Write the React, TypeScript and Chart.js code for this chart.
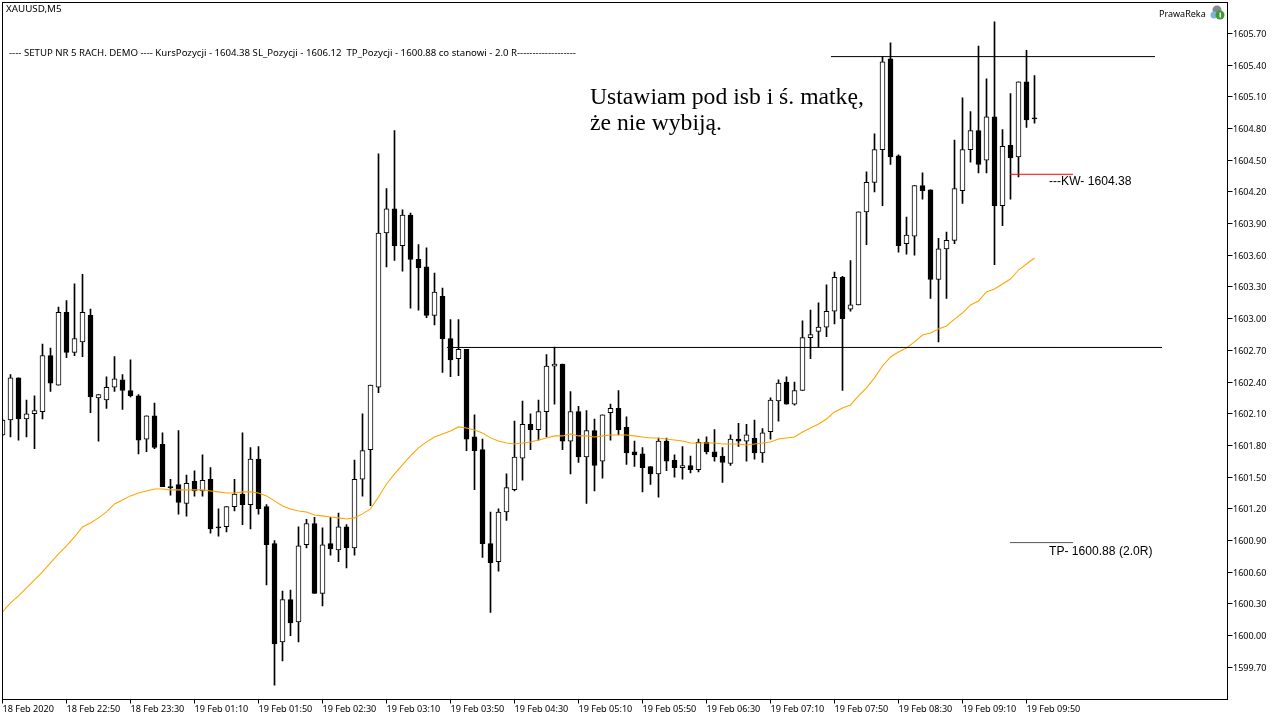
import React, { useEffect, useRef } from "react";
import { Chart, registerables } from "chart.js";

Chart.register(...registerables);

const opens = [1601.90,1602.04,1602.44,1602.05,1602.10,1602.12,1602.65,1602.37,1603.06,1602.68,1602.78,1603.03,1602.25,1602.23,1602.35,1602.42,1602.32,1602.27,1601.86,1602.08,1601.81,1601.41,1601.43,1601.25,1601.46,1601.37,1601.48,1601.03,1601.03,1601.22,1601.34,1601.24,1601.67,1601.22,1600.87,1599.94,1600.34,1600.13,1600.86,1601.06,1600.40,1600.87,1600.81,1601.03,1600.83,1601.48,1601.76,1602.35,1603.81,1604.04,1603.69,1603.98,1603.56,1603.49,1603.03,1603.21,1602.81,1602.62,1602.71,1601.88,1601.76,1600.87,1600.70,1601.17,
1601.38,1601.68,1602.00,1601.95,1602.12,1602.55,1602.57,1601.84,1602.12,1601.69,1601.94,1601.65,1602.11,1602.15,1601.97,1601.74,1601.72,1601.60,1601.53,1601.84,1601.66,1601.59,1601.61,1601.57,1601.83,1601.74,1601.70,1601.63,1601.86,1601.84,1601.87,1601.73,1601.93,1602.22,1602.40,1602.19,1602.32,1602.82,1602.88,1602.92,1603.07,1603.39,1603.09,1603.13,1604.01,1604.29,1604.60,1605.46,1604.54,1603.71,1603.78,1604.26,1604.22,1603.37,1603.66,1603.74,1604.21,1604.60,1604.78,1604.50,1604.91,1604.07,1604.64,1604.53,1605.24,1604.90];
const highs = [1602.05,1602.47,1602.44,1602.23,1602.27,1602.76,1602.72,1603.11,1603.17,1603.33,1603.42,1603.09,1602.28,1602.45,1602.64,1602.47,1602.61,1602.28,1602.08,1602.20,1601.92,1601.48,1601.94,1601.52,1601.56,1601.71,1601.59,1601.20,1601.22,1601.48,1601.92,1601.78,1601.79,1601.24,1600.90,1600.42,1600.43,1601.03,1601.10,1601.12,1601.02,1601.12,1601.16,1601.05,1601.66,1602.10,1602.37,1604.56,1604.23,1604.78,1604.03,1604.00,1603.70,1603.67,1603.43,1603.29,1602.99,1602.99,1602.71,1602.09,1601.86,1601.17,1601.20,1601.53,
1602.03,1602.22,1602.10,1602.23,1602.66,1602.73,1602.57,1602.31,1602.17,1602.13,1602.05,1602.09,1602.19,1602.32,1602.07,1601.84,1601.78,1601.60,1601.87,1601.87,1601.71,1601.79,1601.70,1601.86,1601.88,1601.95,1601.78,1601.90,1602.01,1602.00,1602.04,1601.96,1602.25,1602.42,1602.45,1602.40,1602.98,1603.08,1603.15,1603.32,1603.44,1603.40,1603.55,1604.01,1604.39,1604.75,1605.48,1605.61,1604.55,1603.96,1604.26,1604.38,1604.22,1603.76,1603.82,1604.69,1605.09,1604.96,1605.58,1605.27,1605.81,1604.79,1605.13,1605.24,1605.54,1605.30];
const lows = [1601.89,1601.88,1601.85,1601.88,1601.77,1602.05,1602.31,1602.37,1602.63,1602.65,1602.64,1602.11,1601.84,1602.15,1602.31,1602.14,1602.26,1601.72,1601.74,1601.77,1601.41,1601.33,1601.15,1601.13,1601.32,1601.32,1600.97,1600.94,1600.98,1601.18,1601.05,1601.01,1601.15,1600.48,1599.53,1599.76,1600.00,1599.94,1600.83,1600.40,1600.28,1600.76,1600.70,1600.64,1600.76,1601.32,1601.23,1602.30,1603.49,1603.55,1603.45,1603.10,1603.08,1603.01,1602.94,1602.49,1602.45,1602.46,1601.75,1601.38,1600.74,1600.22,1600.61,1601.09,
1601.37,1601.47,1601.76,1601.85,1601.88,1602.19,1601.76,1601.53,1601.64,1601.25,1601.37,1601.49,1601.85,1601.90,1601.62,1601.60,1601.36,1601.43,1601.31,1601.56,1601.50,1601.48,1601.54,1601.55,1601.72,1601.65,1601.45,1601.61,1601.79,1601.65,1601.67,1601.64,1601.86,1602.03,1602.19,1602.18,1602.32,1602.62,1602.73,1602.83,1602.95,1602.32,1603.07,1603.13,1603.70,1604.20,1604.07,1604.46,1603.63,1603.61,1603.60,1604.13,1603.19,1602.78,1603.19,1603.71,1604.09,1604.48,1604.38,1604.38,1603.51,1603.88,1604.13,1604.34,1604.81,1604.85];
const closes = [1602.04,1602.44,1602.05,1602.10,1602.13,1602.65,1602.39,1603.06,1602.68,1602.81,1603.06,1602.26,1602.28,1602.35,1602.43,1602.32,1602.27,1601.85,1602.08,1601.78,1601.41,1601.40,1601.26,1601.44,1601.37,1601.47,1601.01,1601.02,1601.22,1601.34,1601.24,1601.67,1601.20,1600.86,1599.92,1600.34,1600.12,1600.85,1601.06,1600.40,1600.86,1600.82,1601.03,1600.83,1601.48,1601.75,1602.37,1603.81,1604.04,1603.69,1603.98,1603.56,1603.48,1603.03,1603.25,1602.81,1602.61,1602.71,1601.86,1601.75,1600.87,1600.69,1601.17,1601.40,
1601.69,1602.00,1601.95,1602.12,1602.55,1602.57,1601.84,1602.12,1601.69,1601.94,1601.61,1602.09,1602.15,1601.95,1601.73,1601.71,1601.59,1601.53,1601.84,1601.65,1601.59,1601.61,1601.57,1601.83,1601.74,1601.69,1601.64,1601.86,1601.84,1601.90,1601.73,1601.92,1602.23,1602.39,1602.19,1602.32,1602.82,1602.85,1602.92,1603.07,1603.39,1603.00,1603.13,1604.01,1604.29,1604.60,1605.43,1604.53,1603.69,1603.79,1604.26,1604.21,1603.37,1603.66,1603.74,1604.23,1604.60,1604.78,1604.46,1604.91,1604.07,1604.63,1604.52,1605.24,1604.88,1604.89];
const movingAverage = [1600.224,1600.309,1600.376,1600.451,1600.527,1600.603,1600.688,1600.773,1600.849,1600.934,1601.028,1601.066,1601.114,1601.170,1601.246,1601.284,1601.322,1601.350,1601.369,1601.388,1601.388,1601.379,1601.379,1601.379,1601.379,1601.379,1601.369,1601.360,1601.350,1601.350,1601.360,1601.360,1601.350,1601.322,1601.275,1601.227,1601.199,1601.180,1601.170,1601.142,1601.133,1601.123,1601.114,1601.104,1601.114,1601.152,1601.199,1601.312,1601.435,1601.530,1601.615,1601.700,1601.776,1601.833,1601.880,1601.909,1601.937,1601.975,1601.965,1601.946,1601.918,1601.871,1601.842,1601.823,1601.814,1601.823,1601.833,1601.852,1601.871,1601.890,1601.890,1601.909,1601.890,1601.890,1601.880,1601.890,1601.899,1601.899,1601.899,1601.890,1601.880,1601.871,1601.871,1601.861,1601.852,1601.842,1601.823,1601.823,1601.823,1601.823,1601.814,1601.814,1601.814,1601.804,1601.814,1601.823,1601.833,1601.861,1601.871,1601.880,1601.927,1601.965,1602.003,1602.050,1602.117,1602.154,1602.183,1602.268,1602.344,1602.439,1602.552,1602.637,1602.684,1602.722,1602.779,1602.845,1602.864,1602.902,1602.930,1602.996,1603.053,1603.129,1603.167,1603.252,1603.280,1603.328,1603.375,1603.460,1603.517,1603.574];

const timeLabels = ["18 Feb 2020","18 Feb 22:50","18 Feb 23:30","19 Feb 01:10","19 Feb 01:50","19 Feb 02:30","19 Feb 03:10","19 Feb 03:50","19 Feb 04:30","19 Feb 05:10","19 Feb 05:50","19 Feb 06:30","19 Feb 07:10","19 Feb 07:50","19 Feb 08:30","19 Feb 09:10","19 Feb 09:50"];
const priceTicks = [1605.7,1605.4,1605.1,1604.8,1604.5,1604.2,1603.9,1603.6,1603.3,1603.0,1602.7,1602.4,1602.1,1601.8,1601.5,1601.2,1600.9,1600.6,1600.3,1600.0,1599.7];

const resistanceLine = { from: 103.56, to: 144.06, price: 1605.48 };
const supportLine = { from: 55.56, to: 144.94, price: 1602.727 };
const entryLine = { from: 125.94, to: 133.81, price: 1604.366 };
const targetLine = { from: 125.94, to: 133.81, price: 1600.88 };

const SYMBOL = "XAUUSD,M5";
const SETUP = "---- SETUP NR 5 RACH. DEMO ---- KursPozycji - 1604.38 SL_Pozycji - 1606.12  TP_Pozycji - 1600.88 co stanowi - 2.0 R-------------------";
const BRAND = "PrawaReka";
const NOTE_1 = "Ustawiam pod isb i ś. matkę,";
const NOTE_2 = "że nie wybiją.";
const ENTRY_LABEL = "---KW- 1604.38";
const TARGET_LABEL = "TP- 1600.88 (2.0R)";

const UI_FONT = '"Noto Sans"';
const LABEL_FONT = '"Liberation Sans"';

const segment = (l: { from: number; to: number; price: number }) => [
  { x: l.from, y: l.price },
  { x: l.to, y: l.price },
];

const frameAndText = {
  id: "frameAndText",
  afterDraw(chart: any) {
    const { ctx, chartArea: a } = chart;
    ctx.save();
    ctx.strokeStyle = "#000";
    ctx.lineWidth = 1;
    ctx.strokeRect(a.left, a.top, a.right - a.left, a.bottom - a.top);
    ctx.textBaseline = "middle";
    ctx.textAlign = "left";
    ctx.fillStyle = "#000";
    ctx.font = `9.8px ${UI_FONT}`;
    ctx.fillText(SYMBOL, 6, 9);
    ctx.font = `9.64px ${UI_FONT}`;
    ctx.fillText(SETUP, 9, 53.5);
    ctx.font = `9px ${UI_FONT}`;
    ctx.fillText(BRAND, 1159, 14);
    ctx.font = '23.65px "Liberation Serif"';
    ctx.fillText(NOTE_1, 590, 98);
    ctx.fillText(NOTE_2, 590, 124);
    ctx.font = `12.1px ${LABEL_FONT}`;
    ctx.fillText(ENTRY_LABEL, 1049, 182);
    ctx.fillText(TARGET_LABEL, 1049, 551.5);
    // small brand badge
    ctx.fillStyle = "#7f8a8f";
    ctx.beginPath();
    ctx.arc(1217, 10, 4.5, 0, Math.PI * 2);
    ctx.fill();
    ctx.fillStyle = "#7db4dc";
    ctx.beginPath();
    ctx.arc(1214, 15, 3.5, 0, Math.PI * 2);
    ctx.fill();
    ctx.fillStyle = "#3f9a35";
    ctx.beginPath();
    ctx.arc(1220, 15, 4.5, 0, Math.PI * 2);
    ctx.fill();
    ctx.fillStyle = "#e8f5e0";
    ctx.fillRect(1219.5, 12.5, 1.5, 5);
    ctx.restore();
  },
};

export default function App() {
  const ref = useRef<HTMLCanvasElement | null>(null);
  useEffect(() => {
    if (!ref.current) return;
    const idx = opens.map((_, i) => i);
    const lineBase = { type: "line", pointRadius: 0, borderWidth: 1, tension: 0, fill: false };
    const chart = new Chart(ref.current, {
      type: "bar",
      data: {
        datasets: [
          { ...lineBase, order: 0, borderColor: "#000000", data: segment(resistanceLine) },
          { ...lineBase, order: 0, borderColor: "#000000", data: segment(supportLine) },
          { ...lineBase, order: 0, borderColor: "#ff0000", data: segment(entryLine) },
          { ...lineBase, order: 0, borderColor: "#555555", data: segment(targetLine) },
          { ...lineBase, order: 1, borderWidth: 1.05, borderColor: "#ffa500", data: idx.map((i) => ({ x: i, y: movingAverage[i] })) },
          {
            type: "bar",
            order: 2,
            barThickness: 5,
            borderWidth: 1,
            borderSkipped: false,
            borderColor: "#000000",
            backgroundColor: idx.map((i) => (closes[i] >= opens[i] ? "#ffffff" : "#000000")),
            data: idx.map((i) => ({ x: i, y: [opens[i], closes[i]] })),
          },
          {
            type: "bar",
            order: 3,
            barThickness: 1,
            borderWidth: 0,
            backgroundColor: "#000000",
            data: idx.map((i) => ({ x: i, y: [lows[i], highs[i]] })),
          },
        ] as any,
      },
      options: {
        animation: false,
        responsive: false,
        devicePixelRatio: 1,
        events: [],
        clip: true,
        layout: { padding: { left: 2.5, top: 2.5, right: 0, bottom: 0 } },
        plugins: { legend: { display: false }, tooltip: { enabled: false }, title: { display: false } },
        scales: {
          x: {
            type: "linear",
            stacked: true,
            offset: false,
            min: 0,
            max: 153.125,
            grid: { offset: false, drawOnChartArea: false, drawTicks: true, tickLength: 4, tickColor: "#000" },
            border: { color: "#000" },
            afterBuildTicks: (s: any) => { s.ticks = timeLabels.map((_, j) => ({ value: j * 8 })); },
            afterFit: (s: any) => { s.height = 20.5; s.paddingLeft = 0; s.paddingRight = 0; },
            ticks: {
              align: "start",
              autoSkip: false,
              maxRotation: 0,
              minRotation: 0,
              padding: 0,
              color: "#000",
              font: { family: UI_FONT, size: 9.1 },
              callback: (v: any) => timeLabels[Math.round(v / 8)],
            },
          },
          y: {
            type: "linear",
            stacked: false,
            position: "right",
            min: 1599.395,
            max: 1605.992,
            grid: { drawOnChartArea: false, drawTicks: true, tickLength: 5, tickColor: "#000" },
            border: { color: "#000" },
            afterBuildTicks: (s: any) => { s.ticks = priceTicks.map((value) => ({ value })); },
            afterFit: (s: any) => { s.width = 52.5; s.paddingTop = 0; s.paddingBottom = 0; },
            ticks: {
              autoSkip: false,
              padding: 0.5,
              labelOffset: 1,
              color: "#000",
              font: { family: UI_FONT, size: 9 },
              callback: (v: any) => Number(v).toFixed(2),
            },
          },
        },
      } as any,
      plugins: [frameAndText],
    });
    return () => chart.destroy();
  }, []);
  return (
    <canvas
      ref={ref}
      width={1280}
      height={720}
      style={{ position: "absolute", left: 0, top: 0, width: 1280, height: 720, display: "block", background: "#fff" }}
    />
  );
}
